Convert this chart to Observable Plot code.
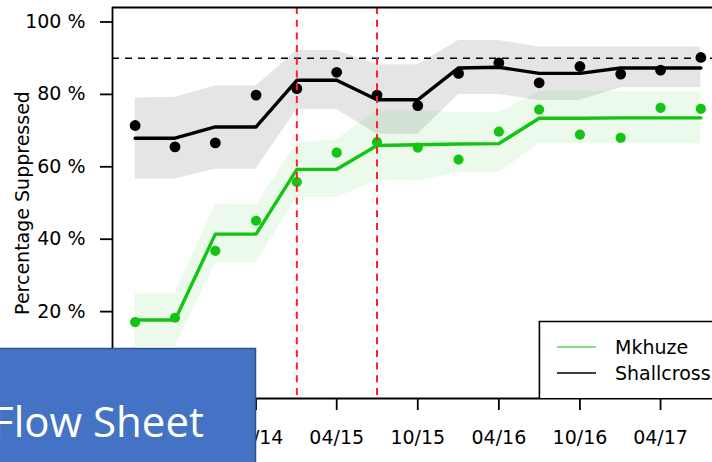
<!DOCTYPE html>
<html>
<head>
<meta charset="utf-8">
<script src="https://cdn.jsdelivr.net/npm/d3@7"></script>
<script src="https://cdn.jsdelivr.net/npm/@observablehq/plot@0.6"></script>
<style>
  html, body { margin: 0; padding: 0; background: white; overflow: hidden; }
  #wrap { position: relative; width: 712px; height: 462px; overflow: hidden; }
  #overlay { position: absolute; left: 0; top: 0; pointer-events: none; }
</style>
</head>
<body>
<div id="wrap"></div>
<script>
// ---- data ----
const quarters = ["2014-01","2014-04","2014-07","2014-10","2015-01","2015-04","2015-07","2015-10",
                  "2016-01","2016-04","2016-07","2016-10","2017-01","2017-04","2017-07"];

const shallcrossObs = [71.4,65.5,66.6,79.8,81.6,86.1,79.8,76.9,85.8,88.7,83.2,87.7,85.6,86.7,90.2];
const shallcrossFit = [67.9,67.9,71.0,71.0,83.9,83.9,78.5,78.5,87.3,87.5,85.8,85.8,87.3,87.3,87.3];
const shallcrossLo  = [56.6,56.6,59.3,59.3,75.8,75.8,69.0,69.0,80.0,80.0,78.3,78.3,81.8,81.8,81.8];
const shallcrossHi  = [79.0,79.2,82.3,82.3,92.1,92.1,88.2,88.2,94.9,94.9,93.1,93.1,93.1,93.1,93.1];

const mkhuzeObs = [17.1,18.3,36.8,45.1,55.8,63.9,66.8,65.3,62.0,69.7,75.8,68.9,68.0,76.3,76.0];
const mkhuzeFit = [17.7,17.7,41.4,41.4,59.3,59.3,65.9,66.1,66.3,66.4,73.4,73.4,73.5,73.5,73.5];
const mkhuzeLo  = [10.2,10.2,33.4,33.4,51.5,51.5,56.1,56.1,58.4,58.4,66.4,66.4,66.4,66.4,66.4];
const mkhuzeHi  = [24.9,24.9,49.5,49.5,66.5,67.5,75.6,75.6,74.9,74.9,80.7,80.7,80.7,80.7,80.7];

const interventions = ["2015-01","2015-07"];
const target = [90];
const xTickDates = ["2013-10","2014-04","2014-10","2015-04","2015-10","2016-04","2016-10","2017-04","2017-10"];
const yTicks = [0,20,40,60,80,100];
const yLabel = "Percentage Suppressed";
const seriesNames = ["Mkhuze","Shallcross"];
const boxText = "Flow Sheet";

// ---- build tables ----
const parse = d3.utcParse("%Y-%m");
const dates = quarters.map(parse);
const shallcross = dates.map((d,i) => ({date: d, obs: shallcrossObs[i], fit: shallcrossFit[i], lo: shallcrossLo[i], hi: shallcrossHi[i]}));
const mkhuze = dates.map((d,i) => ({date: d, obs: mkhuzeObs[i], fit: mkhuzeFit[i], lo: mkhuzeLo[i], hi: mkhuzeHi[i]}));

// R-style 4% expansion of the x domain
const [x0, x1] = d3.extent(dates);
const pad = (x1 - x0) * 0.04;
const xDomain = [new Date(+x0 - pad), new Date(+x1 + pad)];
const xTicks = xTickDates.map(parse).filter(d => d >= xDomain[0] && d <= xDomain[1]);

const GREEN = "#14C414";
const FONT = "DejaVu Sans, Liberation Sans, Arial, sans-serif";

const chart = Plot.plot({
  width: 712,
  height: 462,
  marginLeft: 112,
  marginRight: 0,
  marginTop: 7,
  marginBottom: 64,
  style: {fontFamily: FONT, fontSize: "19px", color: "black", background: "white"},
  x: {type: "utc", domain: xDomain, range: [112, 723]},
  y: {domain: [-4, 104]},
  marks: [
    Plot.areaY(shallcross, {x: "date", y1: "lo", y2: "hi", fill: "black", fillOpacity: 0.1, curve: "linear"}),
    Plot.areaY(mkhuze, {x: "date", y1: "lo", y2: "hi", fill: "rgb(40,200,30)", fillOpacity: 0.09, curve: "linear"}),
    Plot.ruleY(target, {stroke: "black", strokeWidth: 1.6, strokeDasharray: "7,6"}),
    Plot.line(shallcross, {x: "date", y: "fit", stroke: "black", strokeWidth: 3.4, strokeLinejoin: "round"}),
    Plot.line(mkhuze, {x: "date", y: "fit", stroke: GREEN, strokeWidth: 3.4, strokeLinejoin: "round"}),
    Plot.dot(shallcross, {x: "date", y: "obs", r: 5.4, fill: "black", stroke: "none"}),
    Plot.dot(mkhuze, {x: "date", y: "obs", r: 5.1, fill: GREEN, stroke: "none"}),
    Plot.ruleX(interventions.map(parse), {stroke: "#FF2020", strokeWidth: 2, strokeDasharray: "7,5.7"}),
    // box lines (top, bottom, left)
    Plot.ruleY([-4, 104], {stroke: "black", strokeWidth: 1.8}),
    Plot.ruleX([xDomain[0]], {stroke: "black", strokeWidth: 1.8}),
    Plot.axisY({ticks: yTicks, tickFormat: d => `${d} %`, tickSize: 12, tickPadding: 15, strokeWidth: 1.8, fontSize: 19, label: null}),
    Plot.axisX({ticks: xTicks, tickFormat: d3.utcFormat("%m/%y"), tickSize: 12, tickPadding: 20, strokeWidth: 1.8, fontSize: 19, label: null}),
    Plot.text([yLabel], {frameAnchor: "left", textAnchor: "middle", dx: -90, rotate: -90, fontSize: 19, fill: "black"})
  ]
});

const wrap = document.getElementById("wrap");
wrap.appendChild(chart);

// ---- overlay: legend and slide box ----
const ns = "http://www.w3.org/2000/svg";
const ov = document.createElementNS(ns, "svg");
ov.setAttribute("id", "overlay");
ov.setAttribute("width", 712);
ov.setAttribute("height", 462);
function el(tag, attrs, text) {
  const e = document.createElementNS(ns, tag);
  for (const k in attrs) e.setAttribute(k, attrs[k]);
  if (text != null) e.textContent = text;
  ov.appendChild(e);
  return e;
}
// legend
el("rect", {x: 539.4, y: 321.5, width: 200, height: 76.5, fill: "white", stroke: "none"});
el("path", {d: "M539.4,398 V321.5 H740", fill: "none", stroke: "black", "stroke-width": 1.6});
const legendColors = ["#55D44F", "black"];
seriesNames.forEach((name, i) => {
  const cy = 347 + i * 26;
  el("line", {x1: 557, x2: 596, y1: cy, y2: cy, stroke: legendColors[i], "stroke-width": 1.7});
  el("text", {x: 615, y: cy + 7, "font-family": FONT, "font-size": 19, fill: "black"}, name);
});
// slide box
el("rect", {x: -10, y: 348.5, width: 265.5, height: 130, fill: "#4472C4", stroke: "#2F528F", "stroke-width": 1.5});
el("text", {x: 204, y: 437, "text-anchor": "end", "font-family": "Open Sans, Lato, sans-serif", "font-size": 42, fill: "white"}, boxText);
wrap.appendChild(ov);
</script>
</body>
</html>
